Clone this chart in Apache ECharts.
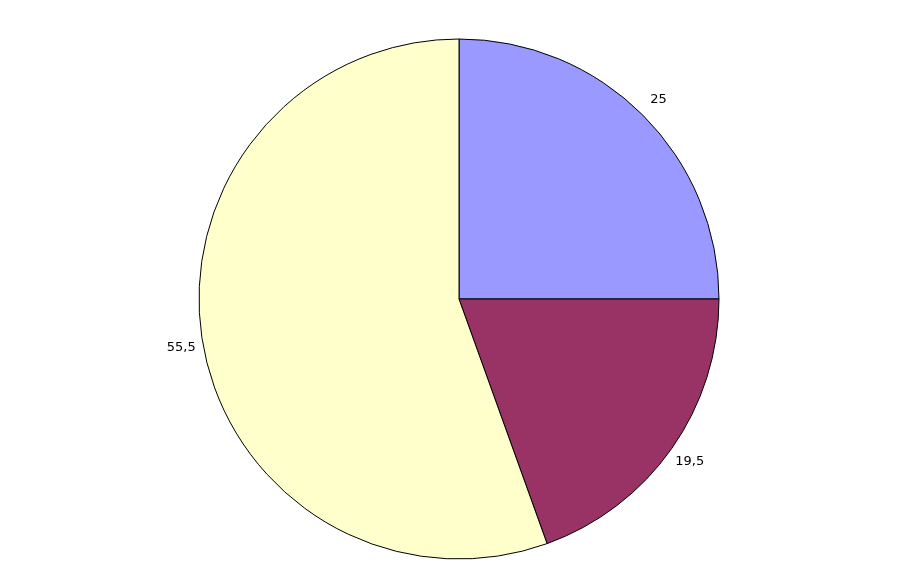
<!DOCTYPE html>
<html>
<head>
<meta charset="utf-8">
<script src="https://cdn.jsdelivr.net/npm/echarts@6/dist/echarts.min.js"></script>
<style>
  html, body { margin: 0; padding: 0; background: #ffffff; }
  #chart { width: 902px; height: 571px; }
</style>
</head>
<body>
<div id="chart"></div>
<script>
// slice data, clockwise from 12 o'clock
var names = ['A', 'B', 'C'];
var values = [25, 19.5, 55.5];
var colors = ['#9999ff', '#993366', '#ffffcc'];

var pieData = values.map(function (v, i) {
  return { name: names[i], value: v, itemStyle: { color: colors[i] } };
});
// same slices, used only to place the value labels outside the pie
var labelData = values.map(function (v, i) {
  return { name: names[i], value: v };
});

var chart = echarts.init(document.getElementById('chart'));
var option = {
  backgroundColor: '#ffffff',
  animation: false,
  series: [
    {
      type: 'pie',
      center: [459, 299],
      radius: [0, 260],
      startAngle: 90,
      clockwise: true,
      silent: true,
      itemStyle: { borderColor: '#000000', borderWidth: 1 },
      label: { show: false },
      labelLine: { show: false },
      data: pieData
    },
    {
      // transparent ring: its "inside" labels sit centred on the slice mid-angle
      type: 'pie',
      center: [459, 299],
      radius: [260, 298],
      startAngle: 90,
      clockwise: true,
      silent: true,
      itemStyle: { color: 'rgba(0,0,0,0)', borderWidth: 0 },
      label: {
        show: true,
        position: 'inside',
        rotate: 0,
        color: '#000000',
        fontFamily: 'DejaVu Sans',
        fontSize: 13,
        fontWeight: 'normal',
        textBorderWidth: 0,
        formatter: function (p) {
          return String(p.value).replace('.', ',');
        }
      },
      labelLine: { show: false },
      data: labelData
    }
  ]
};
chart.setOption(option);
</script>
</body>
</html>
